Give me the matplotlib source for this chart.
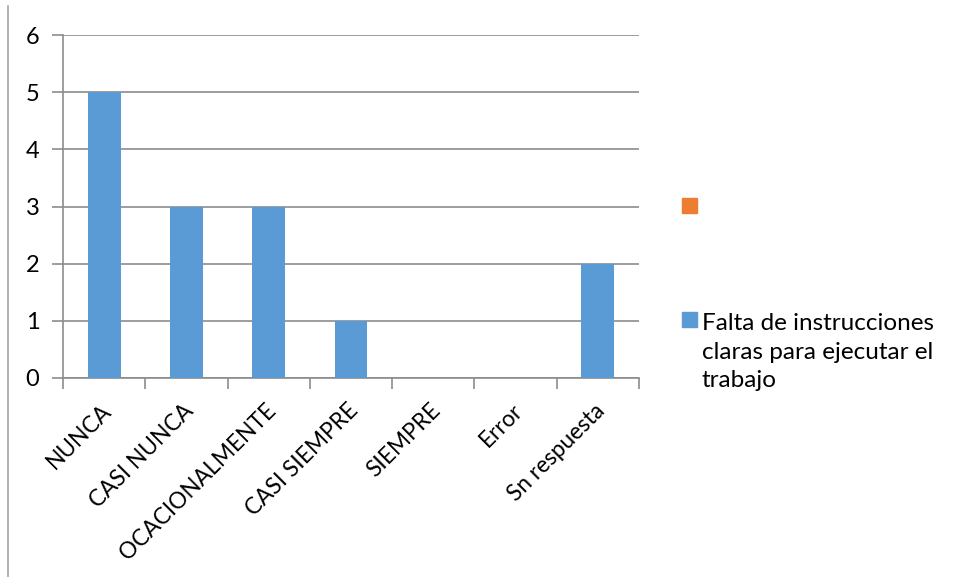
import matplotlib
matplotlib.use("Agg")
import matplotlib.pyplot as plt
from matplotlib.patches import Rectangle
from matplotlib.lines import Line2D
import matplotlib.transforms as mtransforms

plt.rcParams['font.family'] = ['Lato', 'DejaVu Sans']

categories = ["NUNCA", "CASI NUNCA", "OCACIONALMENTE", "CASI SIEMPRE", "SIEMPRE", "Error", "Sn respuesta"]
values = [5, 3, 3, 1, 0, 0, 2]
series_names = ["", "Falta de instrucciones\nclaras para ejecutar el\ntrabajo"]
series_colors = ["#ED7D31", "#5B9BD5"]
yticks = [0, 1, 2, 3, 4, 5, 6]

W, H = 956, 577
fig = plt.figure(figsize=(W / 100, H / 100), dpi=100)
ax = fig.add_axes([63 / W, 1 - 378 / H, (639 - 63) / W, (378 - 35) / H])

x = list(range(len(categories)))
ax.bar(x, values, width=0.4, color=series_colors[1], zorder=3)

ax.set_xlim(-0.5, len(categories) - 0.5)
ax.set_ylim(0, 6)
grid_color = "#8C8C8C"
ax.set_yticks(yticks)
ax.yaxis.grid(True, color=grid_color, linewidth=1.2, zorder=0)
ax.tick_params(axis='y', length=8, color=grid_color, width=1.2, labelsize=17, pad=9)
ax.set_xticks([i - 0.5 for i in range(len(categories) + 1)])
ax.set_xticklabels([])
ax.set_xticks(x, minor=True)
ax.set_xticklabels(categories, minor=True, rotation=45, ha='right', va='center',
                   rotation_mode='anchor', fontsize=16.3)
ax.tick_params(axis='x', which='major', length=8, color=grid_color, width=1.2)
ax.tick_params(axis='x', which='minor', length=0, pad=21)
for s in ['top', 'right']:
    ax.spines[s].set_visible(False)
for s in ['left', 'bottom']:
    ax.spines[s].set_color(grid_color)
    ax.spines[s].set_linewidth(1.2)

offset = mtransforms.ScaledTranslation(4 / 100, 0, fig.dpi_scale_trans)
for lbl in ax.get_xticklabels(minor=True):
    lbl.set_transform(lbl.get_transform() + offset)

# left border line
fig.add_artist(Line2D([8 / W, 8 / W], [0, 1 - 6 / H], color="#A6A6A6", linewidth=1.2))

# legend drawn manually
sq = 15
for (ytop, col) in [(198, series_colors[0]), (312, series_colors[1])]:
    fig.add_artist(Rectangle((682 / W, 1 - (ytop + sq) / H), sq / W, sq / H,
                             color=col, transform=fig.transFigure))
fig.text(702 / W, 1 - 313 / H, series_names[1], fontsize=17.5, va='top', ha='left',
         linespacing=1.45)

fig.savefig("out.png", dpi=100)
